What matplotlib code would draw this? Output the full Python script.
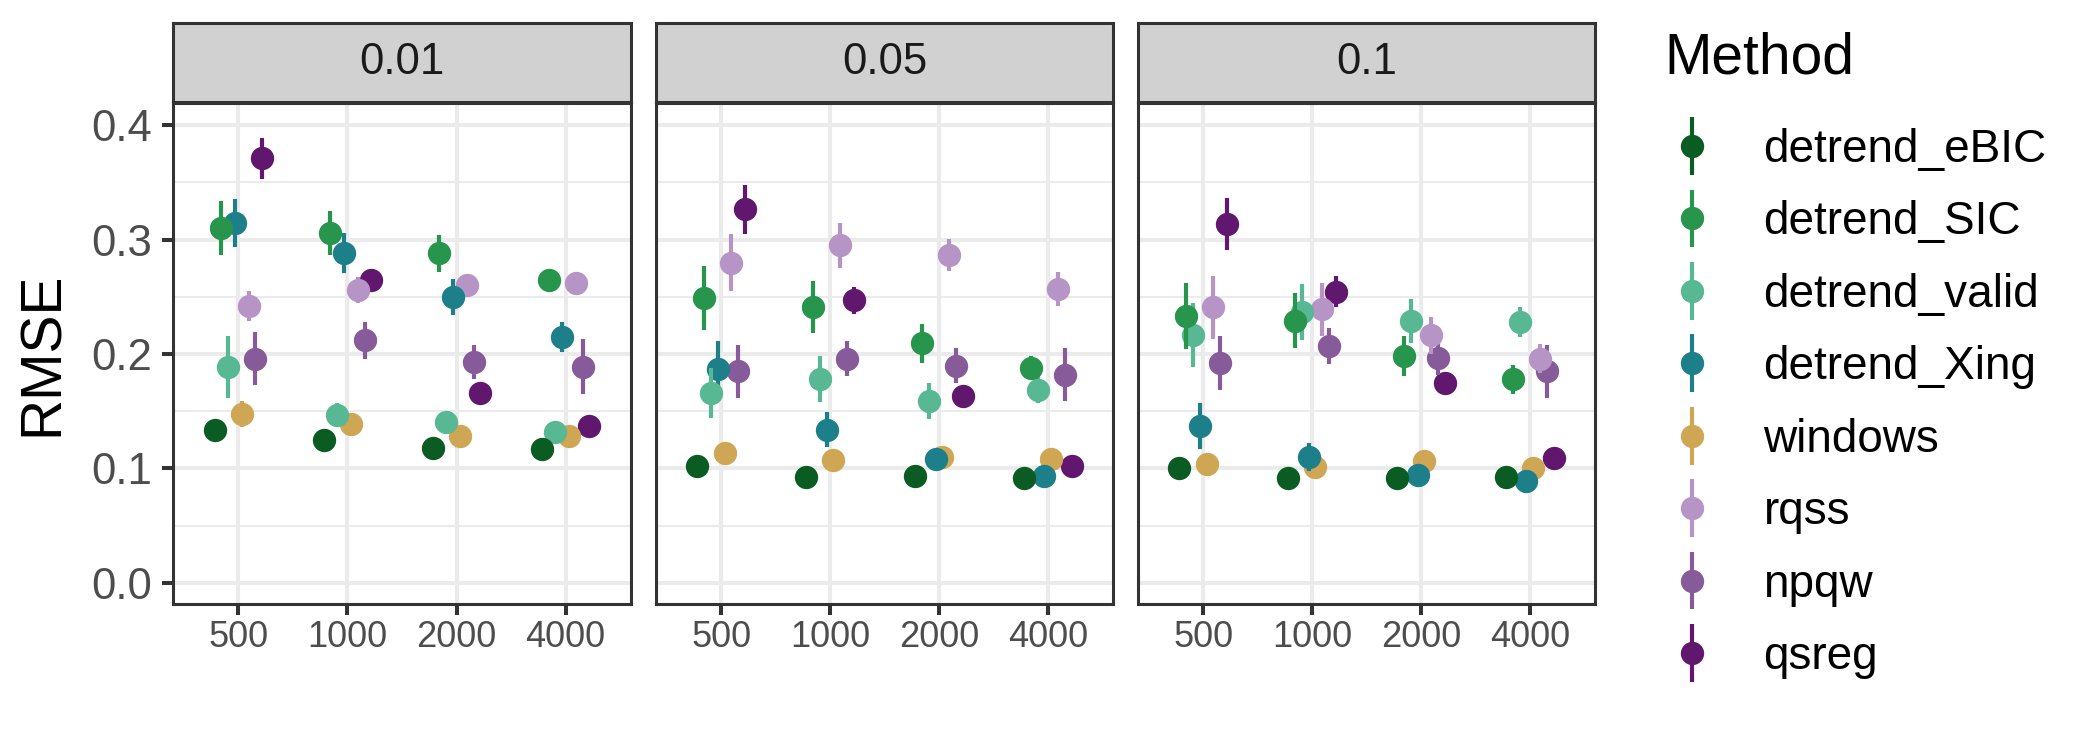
import matplotlib
matplotlib.use('Agg')
import matplotlib.pyplot as plt
from matplotlib.legend_handler import HandlerErrorbar
from matplotlib.container import ErrorbarContainer
import numpy as np

plt.rcParams['font.family'] = ['Liberation Sans', 'DejaVu Sans']

# ---------------- data ----------------
sizes = ['500', '1000', '2000', '4000']
panels = ['0.01', '0.05', '0.1']
methods = ['detrend_eBIC', 'detrend_SIC', 'detrend_valid', 'detrend_Xing',
           'windows', 'rqss', 'npqw', 'qsreg']
colors = ['#0B5C22', '#27954B', '#58B894', '#1D7F89',
          '#CFA654', '#B794C6', '#875B9A', '#62176F']

# RMSE per method (rows, methods order) and size (columns)
rmse_001 = [
    [0.134, 0.125, 0.118, 0.117],
    [0.310, 0.306, 0.288, 0.265],
    [0.1885, 0.147, 0.141, 0.132],
    [0.315, 0.2885, 0.250, 0.215],
    [0.1476, 0.139, 0.128, 0.128],
    [0.242, 0.256, 0.260, 0.262],
    [0.196, 0.212, 0.193, 0.189],
    [0.371, 0.265, 0.166, 0.137],
]
err_001 = [
    [0.004, 0.004, 0.003, 0.003],
    [0.0235, 0.019, 0.016, 0.005],
    [0.027, 0.010, 0.005, 0.004],
    [0.021, 0.0175, 0.016, 0.013],
    [0.0115, 0.005, 0.004, 0.004],
    [0.0128, 0.011, 0.005, 0.004],
    [0.023, 0.016, 0.015, 0.024],
    [0.018, 0.005, 0.004, 0.004],
]
rmse_005 = [
    [0.102, 0.0925, 0.093, 0.092],
    [0.249, 0.241, 0.2095, 0.188],
    [0.166, 0.178, 0.159, 0.169],
    [0.187, 0.134, 0.1085, 0.093],
    [0.1135, 0.1074, 0.110, 0.108],
    [0.280, 0.295, 0.287, 0.257],
    [0.185, 0.196, 0.190, 0.182],
    [0.3265, 0.247, 0.163, 0.102],
]
err_005 = [
    [0.003, 0.003, 0.003, 0.003],
    [0.028, 0.023, 0.017, 0.010],
    [0.0215, 0.020, 0.016, 0.012],
    [0.024, 0.0156, 0.004, 0.003],
    [0.004, 0.004, 0.006, 0.004],
    [0.0247, 0.0194, 0.014, 0.015],
    [0.023, 0.015, 0.015, 0.023],
    [0.0216, 0.012, 0.004, 0.003],
]
rmse_01 = [
    [0.100, 0.092, 0.092, 0.0925],
    [0.233, 0.229, 0.198, 0.178],
    [0.217, 0.237, 0.229, 0.228],
    [0.137, 0.110, 0.094, 0.089],
    [0.104, 0.101, 0.1065, 0.100],
    [0.241, 0.239, 0.2165, 0.196],
    [0.192, 0.207, 0.197, 0.185],
    [0.3136, 0.2547, 0.175, 0.109],
]
err_01 = [
    [0.003, 0.003, 0.003, 0.003],
    [0.029, 0.024, 0.0175, 0.0125],
    [0.028, 0.0243, 0.019, 0.0128],
    [0.020, 0.012, 0.004, 0.004],
    [0.004, 0.004, 0.004, 0.004],
    [0.0276, 0.023, 0.016, 0.0125],
    [0.0236, 0.0156, 0.015, 0.023],
    [0.023, 0.0134, 0.004, 0.004],
]
panel_vals = [rmse_001, rmse_005, rmse_01]
panel_errs = [err_001, err_005, err_01]

# ---------------- layout ----------------
W, H = 2100, 750
fig = plt.figure(figsize=(21, 7.5), dpi=100)

panel_x = [(173, 631), (656, 1113), (1138, 1595)]
panel_top, panel_bot = 103, 604
strip_top, strip_bot = 23, 102

dodge = 0.5
n = len(methods)
xpos = np.arange(1, len(sizes) + 1)
legend_handles = []

for p, (x0, x1) in enumerate(panel_x):
    ax = fig.add_axes([x0 / W, 1 - panel_bot / H, (x1 - x0) / W, (panel_bot - panel_top) / H])
    ax.set_xlim(0.4, 4.6)
    ax.set_ylim(-0.0185, 0.4195)
    ax.set_yticks([0.0, 0.1, 0.2, 0.3, 0.4])
    ax.set_yticks([0.05, 0.15, 0.25, 0.35], minor=True)
    ax.set_xticks(xpos)
    ax.set_xticklabels(sizes)
    ax.grid(True, which='major', color='#EBEBEB', linewidth=2.9, zorder=0)
    ax.grid(True, which='minor', axis='y', color='#EBEBEB', linewidth=1.5, zorder=0)
    ax.set_axisbelow(True)
    for s in ax.spines.values():
        s.set_color('#333333')
        s.set_linewidth(2.2)
    ax.tick_params(axis='x', length=8, width=2.9, color='#333333', labelsize=26,
                   labelcolor='#4D4D4D', pad=3.5)
    ax.tick_params(axis='y', which='minor', length=0)
    if p == 0:
        ax.tick_params(axis='y', which='major', length=8, width=2.9, color='#333333',
                       labelsize=31.5, labelcolor='#4D4D4D', pad=7)
        ax.set_yticklabels(['0.0', '0.1', '0.2', '0.3', '0.4'])
    else:
        ax.tick_params(axis='y', which='major', length=0, labelleft=False)

    vals = panel_vals[p]
    errs = panel_errs[p]
    for i in range(n):
        off = (i - (n - 1) / 2) * dodge / n
        cont = ax.errorbar(xpos + off, vals[i], yerr=errs[i], fmt='o', color=colors[i],
                           markersize=16.8, markeredgewidth=0, elinewidth=3.0,
                           capsize=0, zorder=20 - i, label=methods[i])
        if p == 0:
            legend_handles.append(cont)

    # strip
    sax = fig.add_axes([x0 / W, 1 - strip_bot / H, (x1 - x0) / W, (strip_bot - strip_top) / H])
    sax.set_facecolor('#D1D1D1')
    sax.set_xticks([])
    sax.set_yticks([])
    for s in sax.spines.values():
        s.set_color('#333333')
        s.set_linewidth(2.2)
    sax.text(0.5, 0.5, panels[p], ha='center', va='center', fontsize=31.5,
             color='#1A1A1A', transform=sax.transAxes)

fig.text(43 / W, 1 - 354 / H, 'RMSE', rotation=90, ha='center', va='center',
         fontsize=41, color='black')

leg = fig.legend(handles=legend_handles, labels=methods, loc='upper left',
                 bbox_to_anchor=(1664 / W, 1 - 31 / H), frameon=False,
                 fontsize=33, title='Method', title_fontsize=41,
                 handlelength=1.2, handletextpad=0.97, labelspacing=0.62,
                 borderpad=0, borderaxespad=0, alignment='left',
                 handler_map={ErrorbarContainer: HandlerErrorbar(xerr_size=0.3, yerr_size=0.63)})
leg._legend_box.sep = 31

fig.savefig('out.png', dpi=100)
